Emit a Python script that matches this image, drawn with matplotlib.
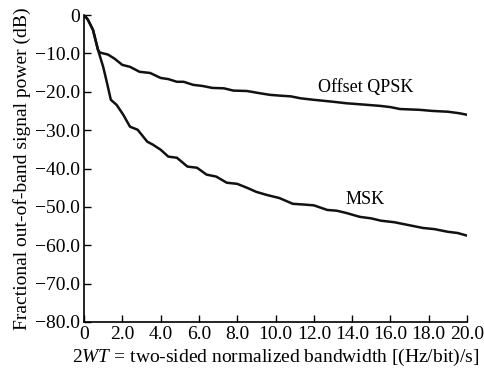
import numpy as np
import matplotlib
matplotlib.use('Agg')
import matplotlib.pyplot as plt

plt.rcParams['font.family'] = ['Liberation Serif', 'DejaVu Serif']
plt.rcParams['mathtext.fontset'] = 'custom'
plt.rcParams['mathtext.rm'] = 'Liberation Serif'
plt.rcParams['mathtext.it'] = 'Liberation Serif:italic'

# curves (x = 2WT, y = dB)
qpsk_x = [0, 0.2, 0.47, 0.73, 0.84, 1.25, 1.6, 2.0, 2.4, 2.9, 3.45, 4.0, 4.4, 4.85, 5.2,
          5.7, 6.2, 6.7, 7.3, 7.8, 8.5, 9.2, 9.7, 10.2, 10.8, 11.3, 12.0, 13.0, 13.7,
          14.5, 15.5, 16.0, 16.5, 17.5, 18.2, 19.0, 19.6, 20.0]
qpsk_y = [0, -1.2, -3.9, -9.1, -9.8, -10.3, -11.4, -13.0, -13.5, -14.8, -15.1, -16.4, -16.7,
          -17.4, -17.4, -18.2, -18.5, -19.0, -19.1, -19.7, -19.8, -20.4, -20.8, -21.0, -21.2,
          -21.7, -22.1, -22.6, -23.0, -23.3, -23.7, -24.0, -24.5, -24.7, -25.0, -25.2, -25.6,
          -26.0]

msk_x = [0, 0.2, 0.47, 0.73, 1.0, 1.2, 1.4, 1.7, 2.05, 2.4, 2.8, 3.3, 3.6, 4.0, 4.4, 4.85,
         5.4, 5.9, 6.4, 6.9, 7.45, 8.0, 8.5, 9.0, 9.55, 10.2, 10.9, 11.5, 12.0, 12.7, 13.2,
         13.7, 14.4, 15.0, 15.5, 16.2, 16.9, 17.7, 18.3, 19.0, 19.5, 20.0]
msk_y = [0, -1.2, -3.9, -9.1, -13.5, -17.7, -22.1, -23.4, -26.0, -29.1, -29.9, -33.0, -33.8,
         -35.1, -36.9, -37.2, -39.5, -39.8, -41.6, -42.1, -43.7, -44.0, -45.0, -46.1, -46.9,
         -47.7, -49.2, -49.4, -49.6, -50.8, -51.0, -51.6, -52.6, -53.0, -53.6, -54.0, -54.7,
         -55.5, -55.8, -56.5, -56.8, -57.5]

xticks = np.arange(0, 21, 2)
yticks = np.arange(-80, 1, 10)

fig = plt.figure(figsize=(4.84, 3.69), dpi=100)
ax = fig.add_axes([0.1736, 0.1274, 0.7914, 0.8319])

ax.plot(qpsk_x, qpsk_y, color='#111111', lw=1.8, solid_joinstyle='round')
ax.plot(msk_x, msk_y, color='#111111', lw=1.8, solid_joinstyle='round')

ax.text(14.7, -18.8, 'Offset QPSK', fontsize=13, ha='center', va='center')
ax.text(14.7, -48.2, 'MSK', fontsize=13, ha='center', va='center')

ax.set_xlim(0, 20)
ax.set_ylim(-80, 0)
ax.set_xticks(xticks)
ax.set_xticklabels(['0'] + ['%.1f' % v for v in xticks[1:]])
ax.set_yticks(yticks)
ax.set_yticklabels(['\u2212%.1f' % -v for v in yticks[:-1]] + ['0'])
ax.tick_params(direction='in', length=5, width=1, labelsize=14, pad=3)
for s in ['top', 'right']:
    ax.spines[s].set_visible(False)
for s in ['left', 'bottom']:
    ax.spines[s].set_linewidth(1.2)

ax.set_xlabel(r'$2\mathit{WT}$ = two-sided normalized bandwidth [(Hz/bit)/s]', fontsize=14, labelpad=3)
ax.set_ylabel('Fractional out-of-band signal power (dB)', fontsize=14, labelpad=3)

fig.savefig('out.png', dpi=100)
